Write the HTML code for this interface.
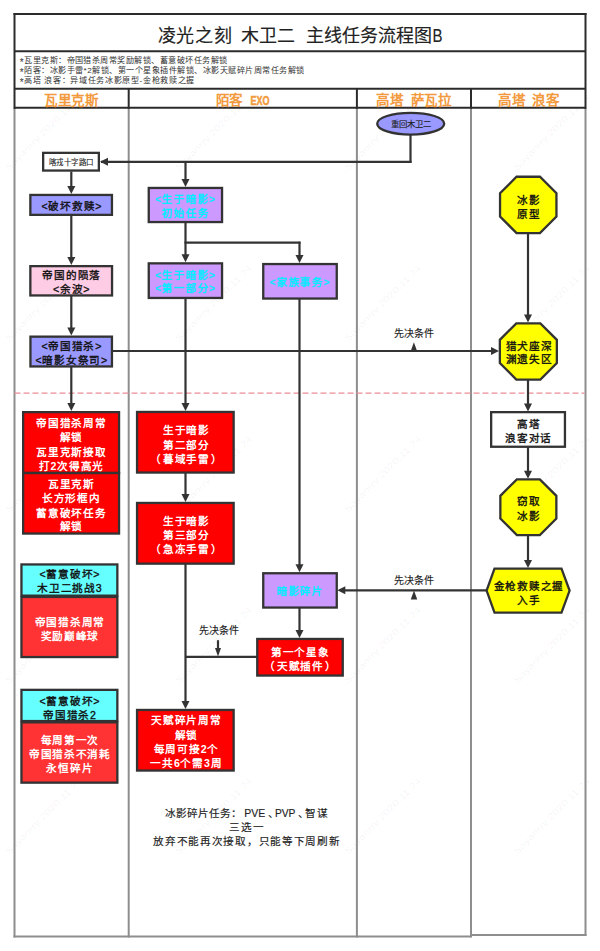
<!DOCTYPE html>
<html lang="zh-CN"><head><meta charset="utf-8"><title>flow</title>
<style>
html,body{margin:0;padding:0;background:#fff;}
body{width:600px;height:951px;overflow:hidden;font-family:"Liberation Sans", sans-serif;}
svg{display:block;}
svg text{font-family:"Liberation Sans", sans-serif;text-spacing-trim:space-all;}
</style></head><body>
<svg width="600" height="951" viewBox="0 0 600 951">
<defs><filter id="bl" x="-10%" y="-30%" width="120%" height="160%"><feGaussianBlur stdDeviation="0.55"/></filter></defs>
<rect x="0" y="0" width="600" height="951" fill="#fff"/>
<text x="9" y="171" transform="rotate(-45 9 171)" font-size="9" fill="#000" fill-opacity="0.055" textLength="104" lengthAdjust="spacingAndGlyphs">Sayaorry 2020.11.24</text>
<text x="9" y="342" transform="rotate(-45 9 342)" font-size="9" fill="#000" fill-opacity="0.055" textLength="104" lengthAdjust="spacingAndGlyphs">Sayaorry 2020.11.24</text>
<text x="9" y="513" transform="rotate(-45 9 513)" font-size="9" fill="#000" fill-opacity="0.055" textLength="104" lengthAdjust="spacingAndGlyphs">Sayaorry 2020.11.24</text>
<text x="9" y="684" transform="rotate(-45 9 684)" font-size="9" fill="#000" fill-opacity="0.055" textLength="104" lengthAdjust="spacingAndGlyphs">Sayaorry 2020.11.24</text>
<text x="9" y="855" transform="rotate(-45 9 855)" font-size="9" fill="#000" fill-opacity="0.055" textLength="104" lengthAdjust="spacingAndGlyphs">Sayaorry 2020.11.24</text>
<text x="179" y="171" transform="rotate(-45 179 171)" font-size="9" fill="#000" fill-opacity="0.055" textLength="104" lengthAdjust="spacingAndGlyphs">Sayaorry 2020.11.24</text>
<text x="179" y="342" transform="rotate(-45 179 342)" font-size="9" fill="#000" fill-opacity="0.055" textLength="104" lengthAdjust="spacingAndGlyphs">Sayaorry 2020.11.24</text>
<text x="179" y="513" transform="rotate(-45 179 513)" font-size="9" fill="#000" fill-opacity="0.055" textLength="104" lengthAdjust="spacingAndGlyphs">Sayaorry 2020.11.24</text>
<text x="179" y="684" transform="rotate(-45 179 684)" font-size="9" fill="#000" fill-opacity="0.055" textLength="104" lengthAdjust="spacingAndGlyphs">Sayaorry 2020.11.24</text>
<text x="179" y="855" transform="rotate(-45 179 855)" font-size="9" fill="#000" fill-opacity="0.055" textLength="104" lengthAdjust="spacingAndGlyphs">Sayaorry 2020.11.24</text>
<text x="348" y="171" transform="rotate(-45 348 171)" font-size="9" fill="#000" fill-opacity="0.055" textLength="104" lengthAdjust="spacingAndGlyphs">Sayaorry 2020.11.24</text>
<text x="348" y="342" transform="rotate(-45 348 342)" font-size="9" fill="#000" fill-opacity="0.055" textLength="104" lengthAdjust="spacingAndGlyphs">Sayaorry 2020.11.24</text>
<text x="348" y="513" transform="rotate(-45 348 513)" font-size="9" fill="#000" fill-opacity="0.055" textLength="104" lengthAdjust="spacingAndGlyphs">Sayaorry 2020.11.24</text>
<text x="348" y="684" transform="rotate(-45 348 684)" font-size="9" fill="#000" fill-opacity="0.055" textLength="104" lengthAdjust="spacingAndGlyphs">Sayaorry 2020.11.24</text>
<text x="348" y="855" transform="rotate(-45 348 855)" font-size="9" fill="#000" fill-opacity="0.055" textLength="104" lengthAdjust="spacingAndGlyphs">Sayaorry 2020.11.24</text>
<text x="517" y="171" transform="rotate(-45 517 171)" font-size="9" fill="#000" fill-opacity="0.055" textLength="104" lengthAdjust="spacingAndGlyphs">Sayaorry 2020.11.24</text>
<text x="517" y="342" transform="rotate(-45 517 342)" font-size="9" fill="#000" fill-opacity="0.055" textLength="104" lengthAdjust="spacingAndGlyphs">Sayaorry 2020.11.24</text>
<text x="517" y="513" transform="rotate(-45 517 513)" font-size="9" fill="#000" fill-opacity="0.055" textLength="104" lengthAdjust="spacingAndGlyphs">Sayaorry 2020.11.24</text>
<text x="517" y="684" transform="rotate(-45 517 684)" font-size="9" fill="#000" fill-opacity="0.055" textLength="104" lengthAdjust="spacingAndGlyphs">Sayaorry 2020.11.24</text>
<text x="517" y="855" transform="rotate(-45 517 855)" font-size="9" fill="#000" fill-opacity="0.055" textLength="104" lengthAdjust="spacingAndGlyphs">Sayaorry 2020.11.24</text>
<rect x="14" y="13" width="572" height="95" fill="#fff"/>
<line x1="14.5" y1="107.8" x2="14.5" y2="937.6" stroke="#8e8e8e" stroke-width="2" />
<line x1="128.7" y1="107.8" x2="128.7" y2="937.6" stroke="#8e8e8e" stroke-width="2" />
<line x1="356.9" y1="107.8" x2="356.9" y2="937.6" stroke="#8e8e8e" stroke-width="2" />
<line x1="471.0" y1="107.8" x2="471.0" y2="937.6" stroke="#8e8e8e" stroke-width="2" />
<line x1="585.5" y1="107.8" x2="585.5" y2="935.9" stroke="#8e8e8e" stroke-width="2" />
<line x1="13.5" y1="936.6" x2="471.0" y2="936.6" stroke="#8e8e8e" stroke-width="2" />
<line x1="471.0" y1="934.9" x2="586.5" y2="934.9" stroke="#8e8e8e" stroke-width="2" />
<line x1="13.5" y1="14" x2="586.5" y2="14" stroke="#2b2b2b" stroke-width="2" />
<line x1="14.5" y1="13" x2="14.5" y2="108.8" stroke="#2b2b2b" stroke-width="2" />
<line x1="585.5" y1="13" x2="585.5" y2="108.8" stroke="#2b2b2b" stroke-width="2" />
<line x1="14.5" y1="51.3" x2="585.5" y2="51.3" stroke="#2b2b2b" stroke-width="2" />
<line x1="14.5" y1="88.8" x2="585.5" y2="88.8" stroke="#2b2b2b" stroke-width="2" />
<line x1="14.5" y1="107.8" x2="585.5" y2="107.8" stroke="#2b2b2b" stroke-width="2" />
<line x1="128.7" y1="88.8" x2="128.7" y2="108.8" stroke="#2b2b2b" stroke-width="2" />
<line x1="356.9" y1="88.8" x2="356.9" y2="108.8" stroke="#2b2b2b" stroke-width="2" />
<line x1="471.0" y1="88.8" x2="471.0" y2="108.8" stroke="#2b2b2b" stroke-width="2" />
<line x1="14.5" y1="393.1" x2="584.5" y2="393.1" stroke="#ee8c96" stroke-width="1.4" stroke-dasharray="6 3"/>
<text x="157.6" y="36" font-size="18" fill="#222" font-weight="normal" text-anchor="start" dominant-baseline="central"  letter-spacing="0.7" stroke="#222" stroke-width="0.150">凌光之刻</text>
<text x="240.5" y="36" font-size="18" fill="#222" font-weight="normal" text-anchor="start" dominant-baseline="central"  stroke="#222" stroke-width="0.150">木卫二</text>
<text x="306" y="36" font-size="18" fill="#222" font-weight="normal" text-anchor="start" dominant-baseline="central"  stroke="#222" stroke-width="0.150">主线任务流程图</text>
<text x="432.5" y="36" font-size="18" fill="#222" font-weight="normal" text-anchor="start" dominant-baseline="central" textLength="10" lengthAdjust="spacingAndGlyphs" stroke="#222" stroke-width="0.150">B</text>
<text x="19.8" y="62.9" font-size="10" fill="#333" font-weight="normal" text-anchor="start" dominant-baseline="central" >*</text>
<text x="24.1" y="60.9" font-size="8.1" fill="#333" font-weight="normal" text-anchor="start" dominant-baseline="central" textLength="203.1" lengthAdjust="spacing">瓦里克斯：帝国猎杀周常奖励解锁、蓄意破坏任务解锁</text>
<text x="19.8" y="72.6" font-size="10" fill="#333" font-weight="normal" text-anchor="start" dominant-baseline="central" >*</text>
<text x="24.1" y="70.6" font-size="8.1" fill="#333" font-weight="normal" text-anchor="start" dominant-baseline="central" textLength="280.1" lengthAdjust="spacing">陌客：冰影手雷*2解锁、第一个星象插件解锁、冰影天赋碎片周常任务解锁</text>
<text x="19.8" y="82.2" font-size="10" fill="#333" font-weight="normal" text-anchor="start" dominant-baseline="central" >*</text>
<text x="24.1" y="80.2" font-size="8.1" fill="#333" font-weight="normal" text-anchor="start" dominant-baseline="central" textLength="170.1" lengthAdjust="spacing">高塔 浪客：异域任务冰影原型-金枪救赎之握</text>
<text x="44.2" y="100.8" font-size="13.5" fill="#f29a3d" font-weight="bold" text-anchor="start" dominant-baseline="central"  letter-spacing="0.45">瓦里克斯</text>
<text x="215.5" y="100.8" font-size="13.5" fill="#f29a3d" font-weight="bold" text-anchor="start" dominant-baseline="central"  letter-spacing="0.45">陌客</text>
<text x="250.6" y="100.8" font-size="12" fill="#f29a3d" font-weight="bold" text-anchor="start" dominant-baseline="central" textLength="19" lengthAdjust="spacingAndGlyphs" stroke="#f29a3d" stroke-width="0.500">EXO</text>
<text x="376.2" y="100.8" font-size="13.5" fill="#f29a3d" font-weight="bold" text-anchor="start" dominant-baseline="central"  letter-spacing="0.45">高塔</text>
<text x="410.7" y="100.8" font-size="13.5" fill="#f29a3d" font-weight="bold" text-anchor="start" dominant-baseline="central"  letter-spacing="0.45">萨瓦拉</text>
<text x="498.2" y="100.8" font-size="13.5" fill="#f29a3d" font-weight="bold" text-anchor="start" dominant-baseline="central"  letter-spacing="0.45">高塔</text>
<text x="532.2" y="100.8" font-size="13.5" fill="#f29a3d" font-weight="bold" text-anchor="start" dominant-baseline="central"  letter-spacing="0.45">浪客</text>
<line x1="410.5" y1="135" x2="410.5" y2="162.8" stroke="#333333" stroke-width="2.2" />
<line x1="411.5" y1="161.8" x2="101" y2="161.8" stroke="#333333" stroke-width="2.2" />
<polygon points="100.00,161.80 108.00,157.80 108.00,165.80" fill="#333333"/>
<line x1="71.3" y1="171.5" x2="71.3" y2="188" stroke="#333333" stroke-width="2.2" />
<polygon points="71.30,193.90 67.30,185.90 75.30,185.90" fill="#333333"/>
<line x1="71.3" y1="215" x2="71.3" y2="258" stroke="#333333" stroke-width="2.2" />
<polygon points="71.30,265.00 67.30,257.00 75.30,257.00" fill="#333333"/>
<line x1="71.3" y1="296" x2="71.3" y2="330" stroke="#333333" stroke-width="2.2" />
<polygon points="71.30,335.60 67.30,327.60 75.30,327.60" fill="#333333"/>
<line x1="71.3" y1="366.5" x2="71.3" y2="405" stroke="#333333" stroke-width="2.2" />
<polygon points="71.30,411.10 67.30,403.10 75.30,403.10" fill="#333333"/>
<line x1="113" y1="351" x2="492" y2="351" stroke="#333333" stroke-width="2.2" />
<polygon points="499.00,351.00 491.00,347.00 491.00,355.00" fill="#333333"/>
<polygon points="413.90,342.20 410.65,351.20 417.15,351.20" fill="#333333"/>
<text x="414" y="333.7" font-size="10" fill="#222" font-weight="normal" text-anchor="middle" dominant-baseline="central"  stroke="#222" stroke-width="0.150">先决条件</text>
<line x1="185.5" y1="161.8" x2="185.5" y2="181" stroke="#333333" stroke-width="2.2" />
<polygon points="185.50,186.90 181.50,178.90 189.50,178.90" fill="#333333"/>
<line x1="185.5" y1="223" x2="185.5" y2="256" stroke="#333333" stroke-width="2.2" />
<polygon points="185.50,262.30 181.50,254.30 189.50,254.30" fill="#333333"/>
<line x1="184.5" y1="242.7" x2="300.5" y2="242.7" stroke="#333333" stroke-width="2.2" />
<line x1="299.5" y1="241.7" x2="299.5" y2="257" stroke="#333333" stroke-width="2.2" />
<polygon points="299.50,263.00 295.50,255.00 303.50,255.00" fill="#333333"/>
<line x1="185.5" y1="298" x2="185.5" y2="405" stroke="#333333" stroke-width="2.2" />
<polygon points="185.50,410.90 181.50,402.90 189.50,402.90" fill="#333333"/>
<line x1="185.5" y1="473" x2="185.5" y2="496" stroke="#333333" stroke-width="2.2" />
<polygon points="185.50,501.90 181.50,493.90 189.50,493.90" fill="#333333"/>
<line x1="185.5" y1="563.5" x2="185.5" y2="703" stroke="#333333" stroke-width="2.2" />
<polygon points="185.50,708.90 181.50,700.90 189.50,700.90" fill="#333333"/>
<line x1="299.5" y1="298.5" x2="299.5" y2="566" stroke="#333333" stroke-width="2.2" />
<polygon points="299.50,572.20 295.50,564.20 303.50,564.20" fill="#333333"/>
<line x1="299.5" y1="607" x2="299.5" y2="631" stroke="#333333" stroke-width="2.2" />
<polygon points="299.50,637.90 295.50,629.90 303.50,629.90" fill="#333333"/>
<line x1="185.5" y1="656.9" x2="257" y2="656.9" stroke="#333333" stroke-width="2.2" />
<line x1="218" y1="640.2" x2="218" y2="650" stroke="#333333" stroke-width="2.2" />
<polygon points="218.00,656.60 215.00,648.10 221.00,648.10" fill="#333333"/>
<text x="218.5" y="630.6" font-size="10" fill="#222" font-weight="normal" text-anchor="middle" dominant-baseline="central"  stroke="#222" stroke-width="0.150">先决条件</text>
<line x1="486" y1="590.3" x2="345" y2="590.3" stroke="#333333" stroke-width="2.2" />
<polygon points="337.30,590.30 345.30,586.30 345.30,594.30" fill="#333333"/>
<polygon points="414.00,590.60 410.75,599.40 417.25,599.40" fill="#333333"/>
<text x="414" y="580.3" font-size="10" fill="#222" font-weight="normal" text-anchor="middle" dominant-baseline="central"  stroke="#222" stroke-width="0.150">先决条件</text>
<line x1="528" y1="234" x2="528" y2="315" stroke="#333333" stroke-width="2.2" />
<polygon points="528.00,322.40 524.00,314.40 532.00,314.40" fill="#333333"/>
<line x1="528" y1="380" x2="528" y2="404" stroke="#333333" stroke-width="2.2" />
<polygon points="528.00,411.50 524.00,403.50 532.00,403.50" fill="#333333"/>
<line x1="528" y1="447" x2="528" y2="472" stroke="#333333" stroke-width="2.2" />
<polygon points="528.00,478.80 524.00,470.80 532.00,470.80" fill="#333333"/>
<line x1="528" y1="536" x2="528" y2="561" stroke="#333333" stroke-width="2.2" />
<polygon points="528.00,568.00 524.00,560.00 532.00,560.00" fill="#333333"/>
<rect x="43.15" y="152.85" width="55.70" height="17.70" fill="#ffffff" stroke="#333333" stroke-width="2.3"/>
<text x="71.275" y="162" font-size="7.5" fill="#222" font-weight="normal" text-anchor="middle" dominant-baseline="central"  letter-spacing="0.55" stroke="#222" stroke-width="0.100">喀戎十字路口</text>
<rect x="30.35" y="194.95" width="81.60" height="19.90" fill="#9999ff" stroke="#333333" stroke-width="2.3"/>
<text x="71.86" y="205.6" font-size="10.6" fill="#111" font-weight="normal" text-anchor="middle" dominant-baseline="central"  letter-spacing="0.72" stroke="#111" stroke-width="0.356">&lt;破坏救赎&gt;</text>
<rect x="30.35" y="266.15" width="81.70" height="29.30" fill="#ffcce5" stroke="#333333" stroke-width="2.3"/>
<text x="71.66" y="275.3" font-size="10.6" fill="#111" font-weight="normal" text-anchor="middle" dominant-baseline="central"  letter-spacing="0.72" stroke="#111" stroke-width="0.356">帝国的陨落</text>
<text x="71.66" y="289.4" font-size="10.6" fill="#111" font-weight="normal" text-anchor="middle" dominant-baseline="central"  letter-spacing="0.72" stroke="#111" stroke-width="0.356">&lt;余波&gt;</text>
<rect x="30.45" y="336.65" width="81.50" height="29.80" fill="#9999ff" stroke="#333333" stroke-width="2.3"/>
<text x="71.76" y="345.8" font-size="10.6" fill="#111" font-weight="normal" text-anchor="middle" dominant-baseline="central"  letter-spacing="0.72" stroke="#111" stroke-width="0.356">&lt;帝国猎杀&gt;</text>
<text x="71.76" y="359.6" font-size="10.6" fill="#111" font-weight="normal" text-anchor="middle" dominant-baseline="central"  letter-spacing="0.72" stroke="#111" stroke-width="0.356">&lt;暗影女祭司&gt;</text>
<rect x="23.15" y="412.15" width="95.90" height="60.80" fill="#ff0000" stroke="#333333" stroke-width="2.3"/>
<rect x="23.15" y="473.05" width="95.90" height="60.50" fill="#ff0000" stroke="#333333" stroke-width="2.3"/>
<text x="71.36" y="423.3" font-size="10.6" fill="#fff" font-weight="bold" text-anchor="middle" dominant-baseline="central"  letter-spacing="0.72">帝国猎杀周常</text>
<text x="71.36" y="437" font-size="10.6" fill="#fff" font-weight="bold" text-anchor="middle" dominant-baseline="central"  letter-spacing="0.72">解锁</text>
<text x="71.36" y="452" font-size="10.6" fill="#fff" font-weight="bold" text-anchor="middle" dominant-baseline="central"  letter-spacing="0.72">瓦里克斯接取</text>
<text x="71.36" y="465.7" font-size="10.6" fill="#fff" font-weight="bold" text-anchor="middle" dominant-baseline="central"  letter-spacing="0.72">打2次得高光</text>
<text x="71.36" y="484" font-size="10.6" fill="#fff" font-weight="bold" text-anchor="middle" dominant-baseline="central"  letter-spacing="0.72">瓦里克斯</text>
<text x="71.36" y="498.2" font-size="10.6" fill="#fff" font-weight="bold" text-anchor="middle" dominant-baseline="central"  letter-spacing="0.72">长方形框内</text>
<text x="71.36" y="512.8" font-size="10.6" fill="#fff" font-weight="bold" text-anchor="middle" dominant-baseline="central"  letter-spacing="0.72">蓄意破坏任务</text>
<text x="71.36" y="526.4" font-size="10.6" fill="#fff" font-weight="bold" text-anchor="middle" dominant-baseline="central"  letter-spacing="0.72">解锁</text>
<rect x="21.45" y="564.45" width="95.90" height="31.20" fill="#66ffff" stroke="#333333" stroke-width="2.3"/>
<rect x="21.45" y="596.95" width="95.90" height="60.10" fill="#ff3333" stroke="#333333" stroke-width="2.3"/>
<text x="69.86" y="574.2" font-size="10.6" fill="#111" font-weight="normal" text-anchor="middle" dominant-baseline="central"  letter-spacing="0.72" stroke="#111" stroke-width="0.356">&lt;蓄意破坏&gt;</text>
<text x="69.86" y="588.4" font-size="10.6" fill="#111" font-weight="normal" text-anchor="middle" dominant-baseline="central"  letter-spacing="0.72" stroke="#111" stroke-width="0.356">木卫二挑战3</text>
<text x="69.86" y="622" font-size="10.6" fill="#fff" font-weight="bold" text-anchor="middle" dominant-baseline="central"  letter-spacing="0.72">帝国猎杀周常</text>
<text x="69.86" y="635.6" font-size="10.6" fill="#fff" font-weight="bold" text-anchor="middle" dominant-baseline="central"  letter-spacing="0.72">奖励巅峰球</text>
<rect x="21.45" y="689.85" width="95.90" height="31.20" fill="#66ffff" stroke="#333333" stroke-width="2.3"/>
<rect x="21.45" y="722.35" width="95.90" height="60.30" fill="#ff3333" stroke="#333333" stroke-width="2.3"/>
<text x="69.86" y="700.8" font-size="10.6" fill="#111" font-weight="normal" text-anchor="middle" dominant-baseline="central"  letter-spacing="0.72" stroke="#111" stroke-width="0.356">&lt;蓄意破坏&gt;</text>
<text x="69.86" y="715.4" font-size="10.6" fill="#111" font-weight="normal" text-anchor="middle" dominant-baseline="central"  letter-spacing="0.72" stroke="#111" stroke-width="0.356">帝国猎杀2</text>
<text x="69.86" y="740" font-size="10.6" fill="#fff" font-weight="bold" text-anchor="middle" dominant-baseline="central"  letter-spacing="0.72">每周第一次</text>
<text x="69.86" y="754" font-size="10.6" fill="#fff" font-weight="bold" text-anchor="middle" dominant-baseline="central"  letter-spacing="0.72">帝国猎杀不消耗</text>
<text x="69.86" y="767.8" font-size="10.6" fill="#fff" font-weight="bold" text-anchor="middle" dominant-baseline="central"  letter-spacing="0.72">永恒碎片</text>
<rect x="148.75" y="187.95" width="73.30" height="34.10" fill="#cc99ff" stroke="#333333" stroke-width="2.3"/>
<text x="185.86" y="199.3" font-size="10.6" fill="#00eeff" font-weight="bold" text-anchor="middle" dominant-baseline="central" filter="url(#bl)" letter-spacing="0.72">&lt;生于暗影&gt;</text>
<text x="185.86" y="213.3" font-size="10.6" fill="#00eeff" font-weight="bold" text-anchor="middle" dominant-baseline="central" filter="url(#bl)" letter-spacing="0.72">初始任务</text>
<rect x="148.75" y="263.35" width="73.30" height="34.60" fill="#cc99ff" stroke="#333333" stroke-width="2.3"/>
<text x="185.86" y="274.5" font-size="10.6" fill="#00eeff" font-weight="bold" text-anchor="middle" dominant-baseline="central" filter="url(#bl)" letter-spacing="0.72">&lt;生于暗影&gt;</text>
<text x="185.86" y="288.3" font-size="10.6" fill="#00eeff" font-weight="bold" text-anchor="middle" dominant-baseline="central" filter="url(#bl)" letter-spacing="0.72">&lt;第一部分&gt;</text>
<rect x="263.25" y="264.05" width="73.50" height="34.50" fill="#cc99ff" stroke="#333333" stroke-width="2.3"/>
<text x="300.36" y="281.6" font-size="10.6" fill="#00eeff" font-weight="bold" text-anchor="middle" dominant-baseline="central" filter="url(#bl)" letter-spacing="0.72">&lt;家族事务&gt;</text>
<rect x="263.25" y="573.25" width="73.50" height="34.30" fill="#cc99ff" stroke="#333333" stroke-width="2.3"/>
<text x="300.36" y="591.2" font-size="10.6" fill="#00eeff" font-weight="bold" text-anchor="middle" dominant-baseline="central" filter="url(#bl)" letter-spacing="0.72">暗影碎片</text>
<rect x="137.05" y="411.95" width="96.60" height="60.60" fill="#ff0000" stroke="#333333" stroke-width="2.3"/>
<text x="186.36" y="430.4" font-size="10.6" fill="#fff" font-weight="bold" text-anchor="middle" dominant-baseline="central"  letter-spacing="0.72">生于暗影</text>
<text x="186.36" y="444.6" font-size="10.6" fill="#fff" font-weight="bold" text-anchor="middle" dominant-baseline="central"  letter-spacing="0.72">第二部分</text>
<text x="186.36" y="458.8" font-size="10.6" fill="#fff" font-weight="bold" text-anchor="middle" dominant-baseline="central"  letter-spacing="0.72">（<tspan dx="1.5">暮域手雷</tspan><tspan dx="1.5">）</tspan></text>
<rect x="137.05" y="502.95" width="96.60" height="60.70" fill="#ff0000" stroke="#333333" stroke-width="2.3"/>
<text x="186.36" y="521" font-size="10.6" fill="#fff" font-weight="bold" text-anchor="middle" dominant-baseline="central"  letter-spacing="0.72">生于暗影</text>
<text x="186.36" y="535.3" font-size="10.6" fill="#fff" font-weight="bold" text-anchor="middle" dominant-baseline="central"  letter-spacing="0.72">第三部分</text>
<text x="186.36" y="549.4" font-size="10.6" fill="#fff" font-weight="bold" text-anchor="middle" dominant-baseline="central"  letter-spacing="0.72">（<tspan dx="1.5">急冻手雷</tspan><tspan dx="1.5">）</tspan></text>
<rect x="257.25" y="638.95" width="85.50" height="36.60" fill="#ff0000" stroke="#333333" stroke-width="2.3"/>
<text x="300.36" y="651.6" font-size="10.6" fill="#fff" font-weight="bold" text-anchor="middle" dominant-baseline="central"  letter-spacing="0.72">第一个星象</text>
<text x="300.36" y="666" font-size="10.6" fill="#fff" font-weight="bold" text-anchor="middle" dominant-baseline="central"  letter-spacing="0.72">（<tspan dx="1.5">天赋插件</tspan><tspan dx="1.5">）</tspan></text>
<rect x="137.05" y="709.95" width="96.60" height="60.60" fill="#ff0000" stroke="#333333" stroke-width="2.3"/>
<text x="186.36" y="720.4" font-size="10.6" fill="#fff" font-weight="bold" text-anchor="middle" dominant-baseline="central"  letter-spacing="0.72">天赋碎片周常</text>
<text x="186.36" y="734.8" font-size="10.6" fill="#fff" font-weight="bold" text-anchor="middle" dominant-baseline="central"  letter-spacing="0.72">解锁</text>
<text x="186.36" y="749" font-size="10.6" fill="#fff" font-weight="bold" text-anchor="middle" dominant-baseline="central"  letter-spacing="0.72">每周可接2个</text>
<text x="186.36" y="762.6" font-size="10.6" fill="#fff" font-weight="bold" text-anchor="middle" dominant-baseline="central"  letter-spacing="0.72">一共6个需3周</text>
<text x="246.86" y="827.4" font-size="10.6" fill="#222" font-weight="normal" text-anchor="middle" dominant-baseline="central"  letter-spacing="0.72" stroke="#222" stroke-width="0.150">三选一</text>
<text x="246.86" y="841" font-size="10.6" fill="#222" font-weight="normal" text-anchor="middle" dominant-baseline="central"  letter-spacing="0.72" stroke="#222" stroke-width="0.150">放弃不能再次接取，只能等下周刷新</text>
<text x="164.8" y="813.4" font-size="10.6" fill="#222" font-weight="normal" text-anchor="start" dominant-baseline="central"  stroke="#222" stroke-width="0.150">冰影碎片任务：</text>
<text x="244.3" y="813.4" font-size="10.6" fill="#222" font-weight="normal" text-anchor="start" dominant-baseline="central" textLength="21" lengthAdjust="spacingAndGlyphs" stroke="#222" stroke-width="0.150">PVE</text>
<text x="267.5" y="813.4" font-size="10.6" fill="#222" font-weight="normal" text-anchor="start" dominant-baseline="central"  stroke="#222" stroke-width="0.150">、</text>
<text x="274.9" y="813.4" font-size="10.6" fill="#222" font-weight="normal" text-anchor="start" dominant-baseline="central" textLength="20.5" lengthAdjust="spacingAndGlyphs" stroke="#222" stroke-width="0.150">PVP</text>
<text x="297.5" y="813.4" font-size="10.6" fill="#222" font-weight="normal" text-anchor="start" dominant-baseline="central"  stroke="#222" stroke-width="0.150">、</text>
<text x="305.2" y="813.4" font-size="10.6" fill="#222" font-weight="normal" text-anchor="start" dominant-baseline="central"  letter-spacing="0.4" stroke="#222" stroke-width="0.150">智谋</text>
<ellipse cx="410.7" cy="123.7" rx="33.5" ry="10.9" fill="#9999ff" stroke="#333333" stroke-width="2.3"/>
<text x="411" y="123.8" font-size="8.4" fill="#222" font-weight="normal" text-anchor="middle" dominant-baseline="central"  stroke="#222" stroke-width="0.120">重回木卫二</text>
<polygon points="516.55,176.75 539.95,176.75 556.45,193.25 556.45,216.55 539.95,233.05 516.55,233.05 500.05,216.55 500.05,193.25" fill="#ffff00" stroke="#333333" stroke-width="2.3" stroke-linejoin="miter"/>
<text x="528.76" y="199.9" font-size="10.6" fill="#111" font-weight="normal" text-anchor="middle" dominant-baseline="central"  letter-spacing="0.72" stroke="#111" stroke-width="0.356">冰影</text>
<text x="528.76" y="213.9" font-size="10.6" fill="#111" font-weight="normal" text-anchor="middle" dominant-baseline="central"  letter-spacing="0.72" stroke="#111" stroke-width="0.356">原型</text>
<polygon points="516.35,323.35 540.35,323.35 556.85,339.85 556.85,363.05 540.35,379.55 516.35,379.55 499.85,363.05 499.85,339.85" fill="#ffff00" stroke="#333333" stroke-width="2.3" stroke-linejoin="miter"/>
<text x="528.96" y="346" font-size="10.6" fill="#111" font-weight="normal" text-anchor="middle" dominant-baseline="central"  letter-spacing="0.72" stroke="#111" stroke-width="0.356">猎犬座深</text>
<text x="528.96" y="359.3" font-size="10.6" fill="#111" font-weight="normal" text-anchor="middle" dominant-baseline="central"  letter-spacing="0.72" stroke="#111" stroke-width="0.356">渊遗失区</text>
<polygon points="516.85,479.35 539.85,479.35 556.35,495.85 556.35,518.55 539.85,535.05 516.85,535.05 500.35,518.55 500.35,495.85" fill="#ffff00" stroke="#333333" stroke-width="2.3" stroke-linejoin="miter"/>
<text x="528.66" y="501.4" font-size="10.6" fill="#111" font-weight="normal" text-anchor="middle" dominant-baseline="central"  letter-spacing="0.72" stroke="#111" stroke-width="0.356">窃取</text>
<text x="528.66" y="515.9" font-size="10.6" fill="#111" font-weight="normal" text-anchor="middle" dominant-baseline="central"  letter-spacing="0.72" stroke="#111" stroke-width="0.356">冰影</text>
<rect x="491.15" y="412.15" width="73.80" height="34.60" fill="#ffffff" stroke="#333333" stroke-width="2.3"/>
<text x="528.66" y="423.8" font-size="10.6" fill="#111" font-weight="normal" text-anchor="middle" dominant-baseline="central"  letter-spacing="0.72" stroke="#111" stroke-width="0.356">高塔</text>
<text x="528.66" y="438.3" font-size="10.6" fill="#111" font-weight="normal" text-anchor="middle" dominant-baseline="central"  letter-spacing="0.72" stroke="#111" stroke-width="0.356">浪客对话</text>
<polygon points="494.50,568.60 561.50,568.60 569.60,590.60 561.50,612.60 494.50,612.60 486.60,590.60" fill="#ffff00" stroke="#333333" stroke-width="2.3" stroke-linejoin="miter"/>
<text x="528.86" y="585.6" font-size="10.6" fill="#111" font-weight="normal" text-anchor="middle" dominant-baseline="central"  letter-spacing="0.72" stroke="#111" stroke-width="0.356">金枪救赎之握</text>
<text x="528.86" y="599.8" font-size="10.6" fill="#111" font-weight="normal" text-anchor="middle" dominant-baseline="central"  letter-spacing="0.72" stroke="#111" stroke-width="0.356">入手</text>
</svg>
</body></html>
